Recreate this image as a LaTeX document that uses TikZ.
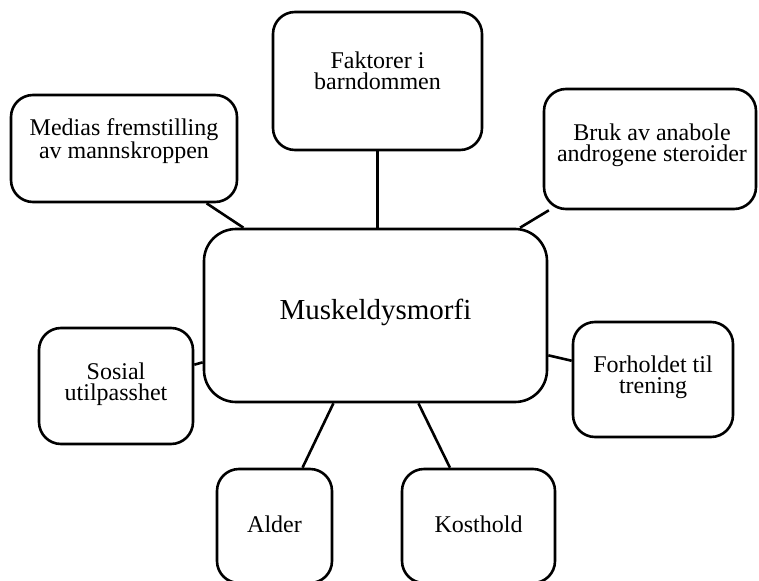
\documentclass[tikz,border=0pt]{standalone}
\usepackage{fontspec}
\setmainfont{Liberation Serif}
\tikzset{
  topic/.style={draw, rectangle, line width=2.6pt, rounded corners=22pt, inner sep=0pt, fill=white},
  hubbox/.style={topic, rounded corners=32pt},
  caption/.style={font=\fontsize{24}{21}\selectfont, align=center, inner sep=0pt},
  bigcaption/.style={font=\fontsize{29}{34}\selectfont, align=center, inner sep=0pt},
  link/.style={line width=2.6pt},
}
\begin{document}
\begin{tikzpicture}[x=1pt, y=-1pt]
  \path[use as bounding box] (0,0) rectangle (759,580);
  \clip (0,0) rectangle (759,580);

  % central box
  \node[hubbox, minimum width=343pt, minimum height=173pt] (hub) at (375.5,315.5) {};
  \node[bigcaption] (hubT) at (375.5,312) {Muskeldysmorfi};

  % surrounding boxes
  \node[topic, minimum width=209pt, minimum height=138pt] (faktor) at (377.5,81) {};
  \node[topic, minimum width=226pt, minimum height=107pt] (medias) at (124,148.5) {};
  \node[topic, minimum width=212pt, minimum height=120pt] (bruk) at (650,149) {};
  \node[topic, minimum width=154pt, minimum height=116pt] (sosial) at (116,386) {};
  \node[topic, minimum width=160pt, minimum height=115pt] (forhold) at (653,379.5) {};
  \node[topic, minimum width=115pt, minimum height=114pt] (alder) at (274.5,526) {};
  \node[topic, minimum width=153pt, minimum height=114pt] (kost) at (478.5,526) {};

  % labels
  \node[caption] (faktorT) at (377.5,71) {Faktorer i\\barndommen};
  \node[caption] (mediasT) at (124,141) {Medias fremstilling\\av mannskroppen};
  \node[caption] (brukT) at (652,145) {Bruk av anabole\\androgene steroider};
  \node[caption] (sosialT) at (116,384) {Sosial\\utilpasshet};
  \node[caption] (forholdT) at (653,377) {Forholdet til\\trening};
  \node[caption] (alderT) at (274.5,524) {Alder};
  \node[caption] (kostT) at (478.5,524) {Kosthold};

  % connectors
  \draw[link] (faktor.south) -- (faktor.south |- hub.north);
  \draw[link] (medias) -- (hub);
  \draw[link] (bruk) -- (hub);
  \draw[link] (sosial) -- (hub);
  \draw[link] (forhold) -- (hub);
  \draw[link] (alder) -- (hub);
  \draw[link] (kost) -- (hub);
\end{tikzpicture}
\end{document}
